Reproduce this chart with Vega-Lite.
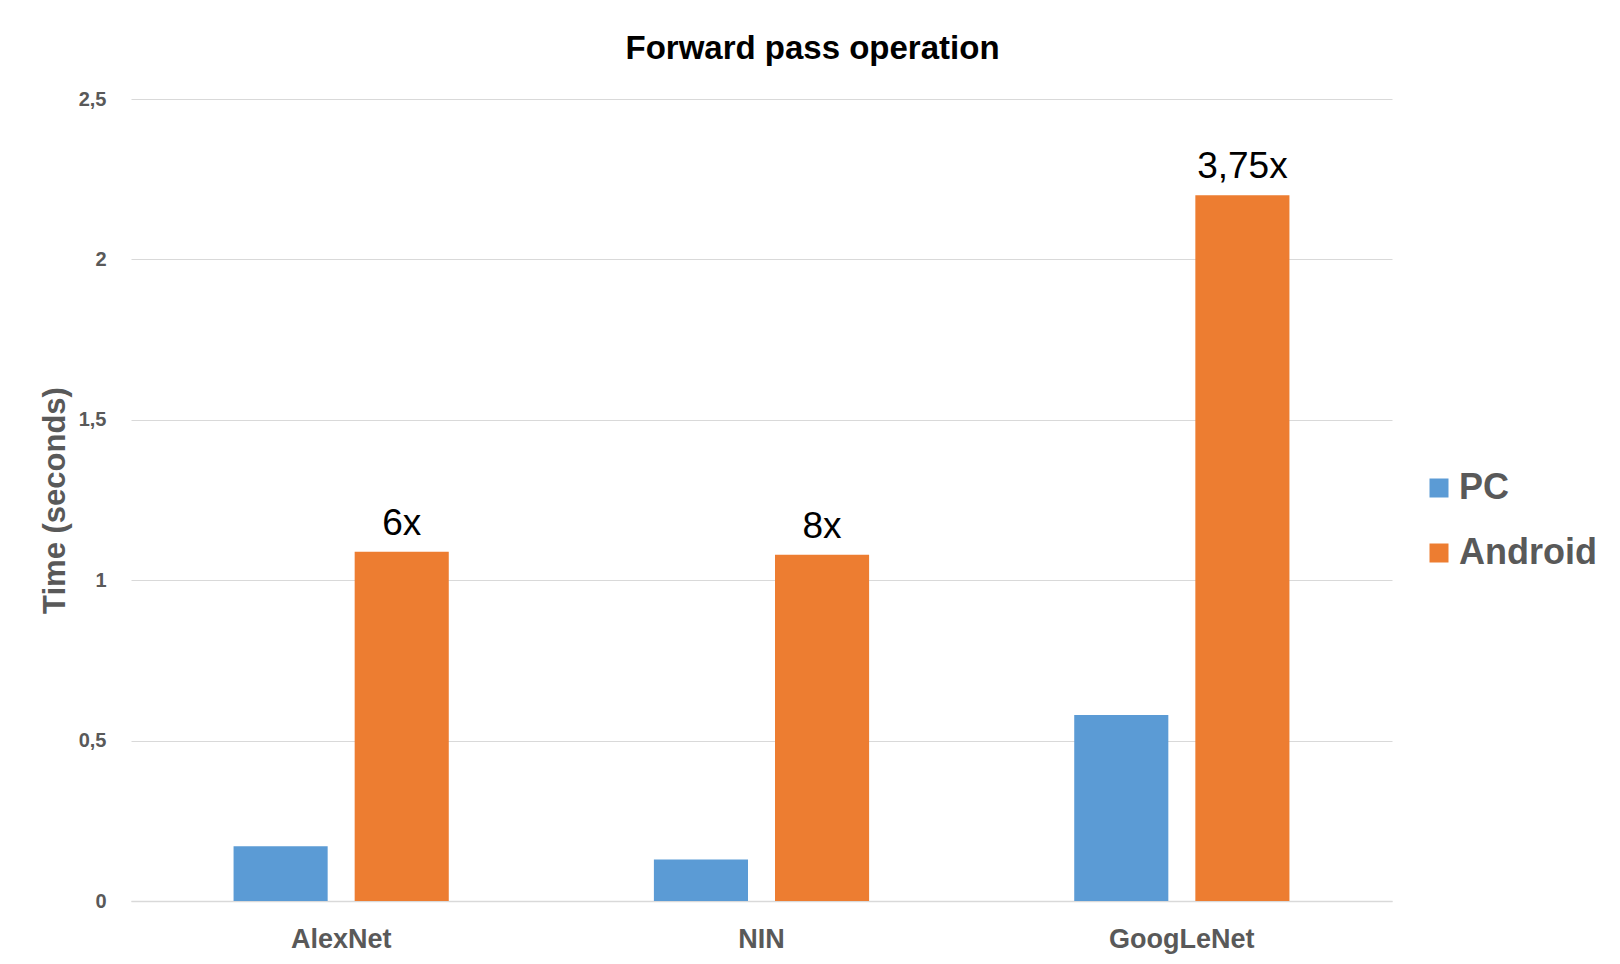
{
  "$schema": "https://vega.github.io/schema/vega-lite/v6.json",
  "autosize": {"type": "none"},
  "width": 1261,
  "height": 802,
  "padding": {"left": 131, "top": 99, "right": 228, "bottom": 63},
  "background": "white",
  "config": {
    "locale": {"number": {"decimal": ",", "thousands": ".", "grouping": [3], "currency": ["", " €"]}},
    "view": {"stroke": null},
    "font": "Liberation Sans"
  },
  "title": {
    "text": "Forward pass operation",
    "font": "Liberation Sans",
    "fontSize": 33,
    "fontWeight": "bold",
    "color": "black",
    "anchor": "middle",
    "offset": 23,
    "dx": 51
  },
  "data": {
    "values": [
      {"model": "AlexNet", "device": "PC", "time": 0.171, "label": ""},
      {"model": "AlexNet", "device": "Android", "time": 1.089, "label": "6x"},
      {"model": "NIN", "device": "PC", "time": 0.129, "label": ""},
      {"model": "NIN", "device": "Android", "time": 1.079, "label": "8x"},
      {"model": "GoogLeNet", "device": "PC", "time": 0.58, "label": ""},
      {"model": "GoogLeNet", "device": "Android", "time": 2.2, "label": "3,75x"}
    ]
  },
  "encoding": {
    "x": {
      "field": "model",
      "type": "nominal",
      "sort": ["AlexNet", "NIN", "GoogLeNet"],
      "scale": {"paddingInner": 0.488, "paddingOuter": 0.244},
      "axis": {
        "title": null,
        "labelAngle": 0,
        "labelFont": "Liberation Sans",
        "labelFontSize": 27,
        "labelFontWeight": "bold",
        "labelColor": "#595959",
        "labelPadding": 25,
        "ticks": false,
        "domainColor": "#d9d9d9",
        "domainWidth": 1.5
      }
    },
    "xOffset": {
      "field": "device",
      "type": "nominal",
      "sort": ["PC", "Android"],
      "scale": {"paddingInner": 0.223, "paddingOuter": 0}
    }
  },
  "layer": [
    {
      "mark": {"type": "bar"},
      "encoding": {
        "y": {
          "field": "time",
          "type": "quantitative",
          "scale": {"domain": [0, 2.5], "nice": false},
          "axis": {
            "title": "Time (seconds)",
            "titleFont": "Liberation Sans",
            "titleFontSize": 31,
            "titleFontWeight": "bold",
            "titleColor": "#595959",
            "titlePadding": 7,
            "values": [0, 0.5, 1, 1.5, 2, 2.5],
            "format": "~g",
            "labelFont": "Liberation Sans",
            "labelFontSize": 20,
            "labelFontWeight": "bold",
            "labelColor": "#595959",
            "labelPadding": 25,
            "ticks": false,
            "domain": false,
            "gridColor": "#d9d9d9",
            "gridWidth": 1.2
          }
        },
        "color": {
          "field": "device",
          "type": "nominal",
          "sort": ["PC", "Android"],
          "scale": {"domain": ["PC", "Android"], "range": ["#5b9bd5", "#ed7d31"]},
          "legend": {
            "title": null,
            "orient": "none",
            "legendX": 1290,
            "legendY": 371,
            "padding": 0,
            "symbolType": "square",
            "symbolSize": 361,
            "symbolStrokeWidth": 0,
            "labelFont": "Liberation Sans",
            "labelFontSize": 36,
            "labelFontWeight": "bold",
            "labelColor": "#595959",
            "labelOffset": 2,
            "rowPadding": 29
          }
        }
      }
    },
    {
      "transform": [{"filter": "datum.device == 'Android'"}],
      "mark": {
        "type": "text",
        "font": "Liberation Sans",
        "fontSize": 37,
        "color": "black",
        "baseline": "alphabetic",
        "dy": -17
      },
      "encoding": {
        "y": {"field": "time", "type": "quantitative"},
        "text": {"field": "label"}
      }
    }
  ]
}
